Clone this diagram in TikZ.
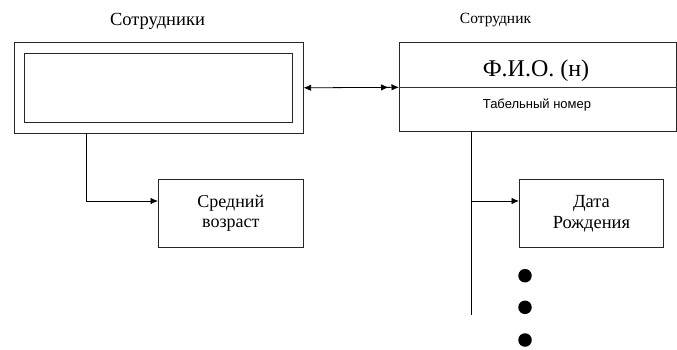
\documentclass[tikz,border=0pt]{standalone}
\usepackage{fontspec}
\setmainfont{Liberation Serif}
\newfontfamily\sansf{Liberation Sans}
\usetikzlibrary{arrows.meta}
\begin{document}
\begin{tikzpicture}[x=1pt,y=-1pt,
  >={Latex[length=7.5pt,width=6.5pt]},
  box/.style={draw=black!85, line width=0.9pt, anchor=north west, inner sep=0pt},
  conn/.style={line width=0.8pt},
  lbl/.style={inner sep=0pt, anchor=base},
  dot/.style={circle, fill=black, inner sep=0pt, minimum size=13.5pt}]
\useasboundingbox (0,0) rectangle (677,349);
% left entity
\node[box, minimum width=288.7pt, minimum height=91.3pt] (outer) at (14,41.7) {};
\node[box, minimum width=267.4pt, minimum height=69pt] (inner) at (24.3,52.7) {};
\node[lbl, font=\fontsize{18.5}{20}\selectfont] (lt1) at (157.5,25) {Сотрудники};
% right entity
\node[box, minimum width=277pt, minimum height=89pt] (emp) at (399,41.7) {};
\coordinate (dl) at (399,87.3);
\coordinate (dr) at (676,87.3);
\draw[line width=1.6pt, black!80] (dl) -- (dr);
\node[lbl, font=\fontsize{15.5}{17}\selectfont] (rt1) at (495.5,23.3) {Сотрудник};
\node[lbl, font=\fontsize{24}{27}\selectfont] (fio) at (536,76.5) {Ф.И.О. (н)};
\node[lbl, font=\sansf\fontsize{13}{15}\selectfont] (tab) at (537,108.3) {Табельный номер};
% connection
\draw[conn, {Latex[length=7.5pt,width=6.5pt]}-{Latex[length=7.5pt,width=6.5pt,sep=3pt]Latex[length=7.5pt,width=6.5pt]}] (outer.east) -- (dl);
% average age
\node[box, minimum width=144.7pt, minimum height=68pt, align=center,
  font=\fontsize{18}{20.5}\selectfont] (avg) at (158,178.7) {Средний\\возраст};
\coordinate (l1) at (86,133);
\coordinate (l2) at (86,201);
\draw[conn, ->] (l1) -- (l2) -- (avg.west |- l2);
% birth date
\node[box, minimum width=144pt, minimum height=67.7pt, align=center,
  font=\fontsize{18.5}{21}\selectfont] (bd) at (519,179) {Дата\\Рождения};
\coordinate (r1) at (471,130.7);
\coordinate (r2) at (471,315);
\coordinate (r3) at (471,201);
\draw[conn] (r1) -- (r2);
\draw[conn, ->] (r3) -- (bd.west |- r3);
% dots
\node[dot] (d1) at (525,275.7) {};
\node[dot] (d2) at (525,307.3) {};
\node[dot] (d3) at (525,340) {};
\end{tikzpicture}
\end{document}
